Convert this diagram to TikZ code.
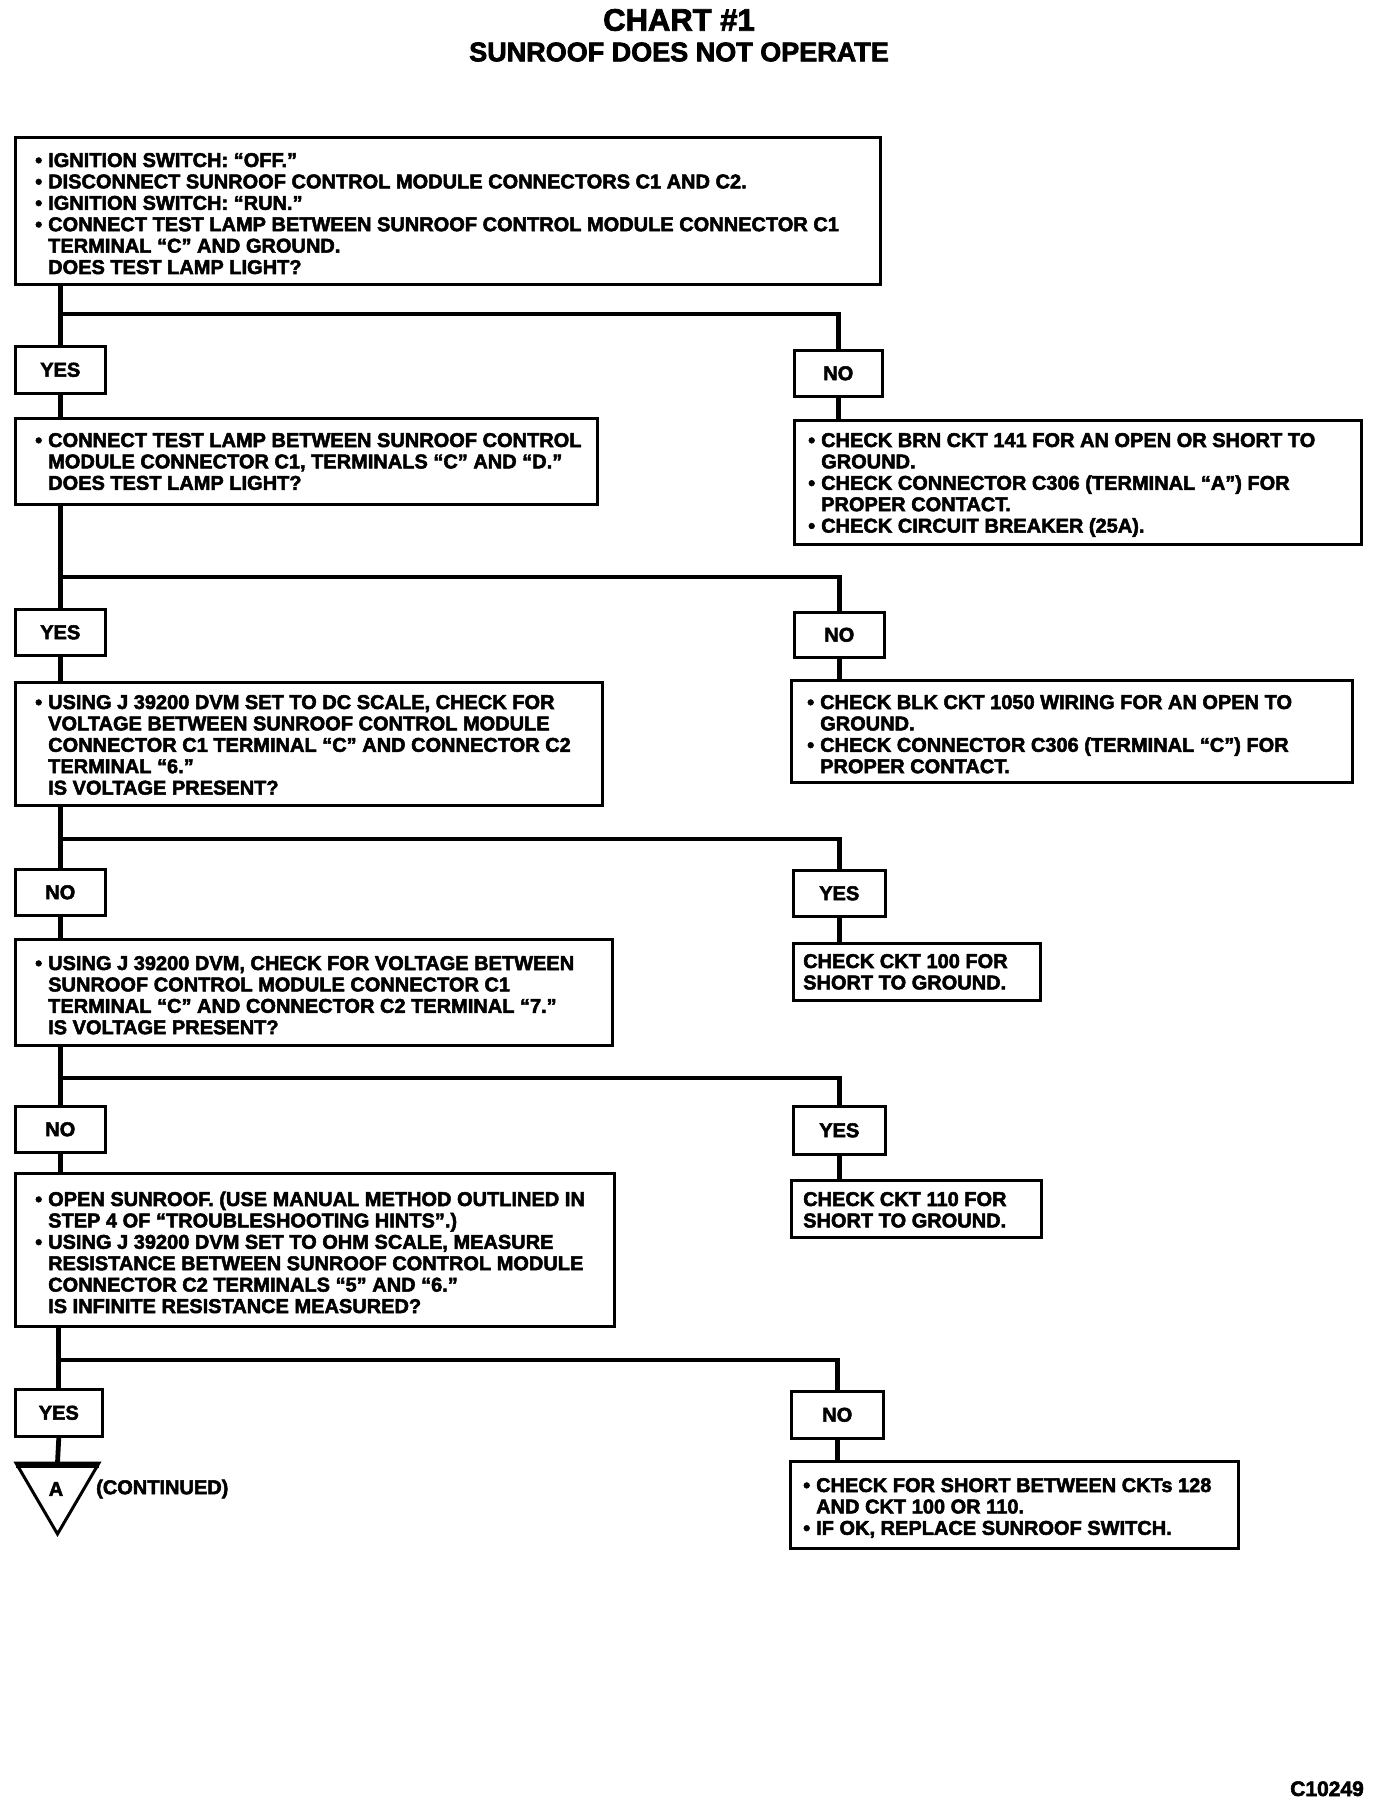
\documentclass[tikz,border=0pt]{standalone}
\usepackage{fontspec}
\setmainfont{Liberation Sans}[BoldFeatures={FakeBold=2.5}]
\newcommand\bl{\makebox[13pt][l]{•}}
\newcommand\ind{\hspace*{13pt}}
\newcommand\body{\fontsize{20}{21.4}\selectfont\bfseries}
\newcommand\lns[1]{\begin{tabular}[t]{@{}l@{}}#1\end{tabular}}
\newcommand\bx[6]{\node[box, anchor=north west, minimum width={#4-#2}, minimum height={#5-#3}] (#1) at (#2,#3) {#6};}
\begin{document}
\begin{tikzpicture}[x=1pt,y=-1pt,
  box/.style={draw, line width=2.6pt, inner sep=0pt, font=\body},
  txt/.style={anchor=base west, inner sep=0pt, font=\body},
  conn/.style={line width=4.8pt}]
\fill[white] (0,0) rectangle (1376,1806);
\useasboundingbox (0,0) rectangle (1376,1806);
% title
\node[inner sep=0pt, font=\fontsize{31}{34}\selectfont\bfseries] (title) at (679,20) {CHART \#1};
\node[inner sep=0pt, font=\fontsize{27}{30}\selectfont\bfseries] (subtitle) at (679,52) {SUNROOF DOES NOT OPERATE};
% row 1
\bx{b1}{14}{136}{879}{283}{}
\node[txt] (t1) at (35,167) {\lns{\bl IGNITION SWITCH: “OFF.”\\
\bl DISCONNECT SUNROOF CONTROL MODULE CONNECTORS C1 AND C2.\\
\bl IGNITION SWITCH: “RUN.”\\
\bl CONNECT TEST LAMP BETWEEN SUNROOF CONTROL MODULE CONNECTOR C1\\
\ind TERMINAL “C” AND GROUND.\\
\ind DOES TEST LAMP LIGHT?}};
\bx{y1}{14}{345}{104}{392}{YES}
\bx{n1}{793}{349}{881}{395}{NO}
\coordinate (j1) at (59,314);
\draw[conn] (b1.south -| y1) -- (y1.north);
\draw[conn] (j1) -| (n1.north);
% row 2
\bx{b2}{14}{417}{596}{503}{}
\node[txt] (t2) at (35,447) {\lns{\bl CONNECT TEST LAMP BETWEEN SUNROOF CONTROL\\
\ind MODULE CONNECTOR C1, TERMINALS “C” AND “D.”\\
\ind DOES TEST LAMP LIGHT?}};
\bx{r1}{793}{419}{1360}{543}{}
\node[txt] (s1) at (808,447) {\lns{\bl CHECK BRN CKT 141 FOR AN OPEN OR SHORT TO\\
\ind GROUND.\\
\bl CHECK CONNECTOR C306 (TERMINAL “A”) FOR\\
\ind PROPER CONTACT.\\
\bl CHECK CIRCUIT BREAKER (25A).}};
\draw[conn] (y1.south) -- (y1.south |- b2.north);
\draw[conn] (n1.south) -- (n1.south |- r1.north);
\bx{y2}{14}{608}{104}{654}{YES}
\bx{n2}{793}{611}{883}{656}{NO}
\coordinate (j2) at (59,577);
\draw[conn] (b2.south -| y2) -- (y2.north);
\draw[conn] (j2) -| (n2.north);
% row 3
\bx{b3}{14}{681}{601}{804}{}
\node[txt] (t3) at (35,709) {\lns{\bl USING J 39200 DVM SET TO DC SCALE, CHECK FOR\\
\ind VOLTAGE BETWEEN SUNROOF CONTROL MODULE\\
\ind CONNECTOR C1 TERMINAL “C” AND CONNECTOR C2\\
\ind TERMINAL “6.”\\
\ind IS VOLTAGE PRESENT?}};
\bx{r2}{790}{679}{1351}{781}{}
\node[txt] (s2) at (807,709) {\lns{\bl CHECK BLK CKT 1050 WIRING FOR AN OPEN TO\\
\ind GROUND.\\
\bl CHECK CONNECTOR C306 (TERMINAL “C”) FOR\\
\ind PROPER CONTACT.}};
\draw[conn] (y2.south) -- (y2.south |- b3.north);
\draw[conn] (n2.south) -- (n2.south |- r2.north);
\bx{n3}{14}{868}{104}{914}{NO}
\bx{y3}{792}{869}{884}{915}{YES}
\coordinate (j3) at (59,839);
\draw[conn] (b3.south -| n3) -- (n3.north);
\draw[conn] (j3) -| (y3.north);
% row 4
\bx{b4}{14}{938}{611}{1044}{}
\node[txt] (t4) at (35,970) {\lns{\bl USING J 39200 DVM, CHECK FOR VOLTAGE BETWEEN\\
\ind SUNROOF CONTROL MODULE CONNECTOR C1\\
\ind TERMINAL “C” AND CONNECTOR C2 TERMINAL “7.”\\
\ind IS VOLTAGE PRESENT?}};
\bx{r3}{792}{942}{1039}{999}{}
\node[txt] (s3) at (803,968) {\lns{CHECK CKT 100 FOR\\ SHORT TO GROUND.}};
\draw[conn] (n3.south) -- (n3.south |- b4.north);
\draw[conn] (y3.south) -- (y3.south |- r3.north);
\bx{n4}{14}{1105}{104}{1151}{NO}
\bx{y4}{792}{1105}{884}{1153}{YES}
\coordinate (j4) at (59,1078);
\draw[conn] (b4.south -| n4) -- (n4.north);
\draw[conn] (j4) -| (y4.north);
% row 5
\bx{b5}{14}{1172}{613}{1325}{}
\node[txt] (t5) at (35,1206) {\lns{\bl OPEN SUNROOF. (USE MANUAL METHOD OUTLINED IN\\
\ind STEP 4 OF “TROUBLESHOOTING HINTS”.)\\
\bl USING J 39200 DVM SET TO OHM SCALE, MEASURE\\
\ind RESISTANCE BETWEEN SUNROOF CONTROL MODULE\\
\ind CONNECTOR C2 TERMINALS “5” AND “6.”\\
\ind IS INFINITE RESISTANCE MEASURED?}};
\bx{r4}{790}{1179}{1040}{1236}{}
\node[txt] (s4) at (803,1206) {\lns{CHECK CKT 110 FOR\\ SHORT TO GROUND.}};
\draw[conn] (n4.south) -- (n4.south |- b5.north);
\draw[conn] (y4.south) -- (y4.south |- r4.north);
\bx{y5}{14}{1388}{101}{1435}{YES}
\bx{n5}{790}{1390}{882}{1437}{NO}
\coordinate (j5) at (57.5,1360);
\draw[conn] (b5.south -| y5) -- (y5.north);
\draw[conn] (j5) -| (n5.north);
% end
\coordinate (tA) at (57.5,1463);
\draw[line width=3pt, line join=miter] (16,1463) -- (99,1463) -- (57.5,1534) -- cycle;
\draw[line width=6pt] (16,1464.5) -- (99,1464.5);
\draw[conn] (y5.south) -- (tA);
\node[inner sep=0pt, font=\body] (A) at (56,1489) {A};
\node[inner sep=0pt, anchor=west, font=\body] (cont) at (96,1489) {(CONTINUED)};
\bx{r5}{789}{1460}{1237}{1547}{}
\node[txt] (s5) at (803,1492) {\lns{\bl CHECK FOR SHORT BETWEEN CKTs 128\\
\ind AND CKT 100 OR 110.\\
\bl IF OK, REPLACE SUNROOF SWITCH.}};
\draw[conn] (n5.south) -- (n5.south |- r5.north);
\node[inner sep=0pt, anchor=base east, font=\fontsize{21}{24}\selectfont\bfseries] (code) at (1364,1796) {C10249};
\end{tikzpicture}
\end{document}
